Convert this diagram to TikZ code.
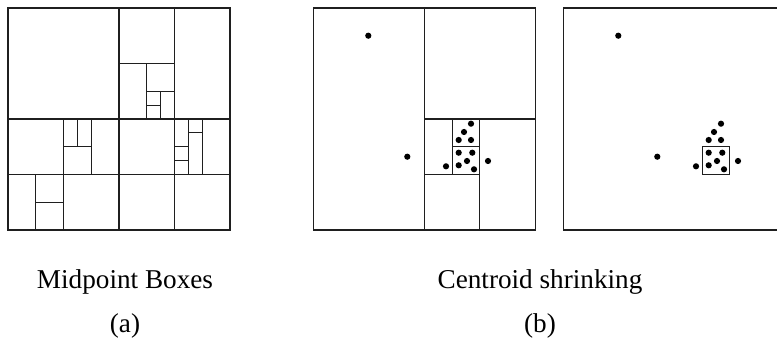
\documentclass[tikz,border=0pt]{standalone}
\usepackage{fontspec}
\setmainfont{Liberation Serif}
\newfontfamily\captionfont{Liberation Serif}
\begin{document}
\begin{tikzpicture}[x=1pt,y=-1pt,
  cell/.style={line width=1.1pt, draw=black!88, line cap=rect},
  dot/.style={fill=black},
  caption/.style={font=\captionfont\fontsize{27.2}{32}\selectfont, inner sep=0pt, anchor=base}]
\useasboundingbox (0,0) rectangle (777,347);

% (a) midpoint subdivision of the square into boxes
\begin{scope}[xshift=8pt, yshift=-8pt, x=27.75pt, y=-27.75pt, cell]
  \draw (0,0) rectangle (8,8);
  \draw (0,4) -- (8,4);  \draw (0,6) -- (8,6);
  \draw (4,0) -- (4,8);  \draw (6,0) -- (6,8);
  \draw (2,4) -- (2,8);
  % upper middle column
  \draw (4,2) -- (6,2);  \draw (5,2) -- (5,4);
  \draw (5,3) -- (6,3);  \draw (5.5,3) -- (5.5,4);
  \draw (5,3.5) -- (5.5,3.5);
  % middle row, left
  \draw (2,5) -- (3,5);  \draw (3,4) -- (3,6);
  \draw (2.5,4) -- (2.5,5);
  % middle row, right
  \draw (6.5,4) -- (6.5,6);  \draw (7,4) -- (7,6);
  \draw (6.5,4.5) -- (7,4.5);
  \draw (6,5) -- (6.5,5);  \draw (6,5.5) -- (6.5,5.5);
  % bottom row, left
  \draw (1,6) -- (1,8);  \draw (1,7) -- (2,7);
\end{scope}

% point set shared by both centroid panels
\newcommand{\pointset}{%
  \foreach \px/\py in {55/27.7, 94/148.7, 132.7/158.3, 145.4/157.3,
      153.7/153, 160.7/161.3, 145.4/144.7, 159/144.7, 145.4/132,
      157.7/132, 150.7/124, 157.7/115.7, 174.7/153}
    {\fill[dot] (\px,\py) circle[radius=3.1];}}

% (b) left: centroid-driven subdivision
\begin{scope}[xshift=313.3pt, yshift=-8pt]
  \begin{scope}[x=27.75pt, y=-27.75pt, cell]
    \draw (0,0) rectangle (8,8);
    \draw (4,0) -- (4,8);
    \draw (4,4) -- (8,4);
    \draw (4,6) -- (6,6);
    \draw (6,4) -- (6,8);
    \draw (5,4) -- (5,6);
    \draw (5,5) -- (6,5);
  \end{scope}
  \pointset
\end{scope}

% (b) right: the shrunk box alone
\begin{scope}[xshift=563.3pt, yshift=-8pt]
  \begin{scope}[x=27.75pt, y=-27.75pt, cell]
    \draw (0,0) rectangle (8,8);
    \draw (5,5) rectangle (6,6);
  \end{scope}
  \pointset
\end{scope}

% captions
\node[caption] (capa)  at (125,289) {Midpoint Boxes};
\node[caption] (laba)  at (125,333) {(a)};
\node[caption] (capb)  at (540,289) {Centroid shrinking};
\node[caption] (labb)  at (540,333) {(b)};
\end{tikzpicture}
\end{document}
